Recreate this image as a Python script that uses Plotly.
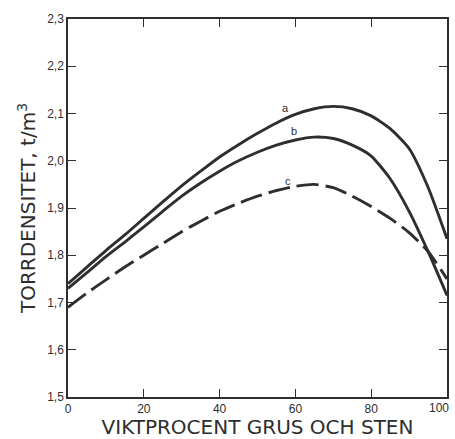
import plotly.graph_objects as go

# Dry density (t/m3) versus weight percent gravel and stone
pct = [0, 5, 10, 15, 20, 25, 30, 35, 40, 45, 50, 55, 60, 65, 70, 75, 80, 85, 90, 95, 100]
curve_a = [1.740, 1.775, 1.810, 1.843, 1.878, 1.913, 1.947, 1.978, 2.008, 2.034, 2.058,
           2.080, 2.098, 2.110, 2.115, 2.110, 2.095, 2.068, 2.026, 1.944, 1.835]
curve_b = [1.730, 1.763, 1.797, 1.828, 1.860, 1.893, 1.925, 1.953, 1.978, 2.000, 2.018,
           2.033, 2.044, 2.050, 2.047, 2.033, 2.010, 1.962, 1.893, 1.808, 1.715]
curve_c = [1.690, 1.720, 1.748, 1.775, 1.800, 1.825, 1.850, 1.872, 1.893, 1.910, 1.925,
           1.937, 1.946, 1.950, 1.943, 1.925, 1.903, 1.878, 1.848, 1.808, 1.750]

curve_names = ["a", "b", "c"]
label_x = [57.5, 59.5, 58.0]
label_y = [2.112, 2.062, 1.957]

x_ticks = [0, 20, 40, 60, 80]
x_tick_text = ["0", "20", "40", "60", "80"]
x_end = 100
x_end_label = "100"  # placed separately, flush with the right frame
y_ticks = [1.5, 1.6, 1.7, 1.8, 1.9, 2.0, 2.1, 2.2, 2.3]

ink = "#2e2e2e"
font_family = "Liberation Sans, Arial"
title_family = "DejaVu Sans, Liberation Sans"

fig = go.Figure()
for ys, dash in [(curve_a, "solid"), (curve_b, "solid"), (curve_c, "22px,7px")]:
    fig.add_trace(go.Scatter(
        x=pct, y=ys, mode="lines",
        line=dict(color=ink, width=2.9, shape="spline", smoothing=0.6, dash=dash),
        showlegend=False, hoverinfo="skip",
    ))

for name, lx, ly in zip(curve_names, label_x, label_y):
    fig.add_annotation(x=lx, y=ly, text=name, showarrow=False,
                       font=dict(family=font_family, size=11, color=ink))

# label for the right end of the x axis, right-aligned so it stays inside the page
fig.add_annotation(x=x_end, y=0, xref="x", yref="paper", text=x_end_label,
                   showarrow=False, xanchor="right", yanchor="top", xshift=4, yshift=-2,
                   font=dict(family=font_family, size=12, color=ink))

axis_common = dict(
    showline=True, linecolor=ink, linewidth=1.5, mirror="ticks",
    ticks="inside", ticklen=8, tickwidth=1.2, tickcolor=ink,
    showgrid=False, zeroline=False, automargin=False,
    tickfont=dict(family=font_family, size=12, color=ink),
)

fig.update_layout(
    width=455, height=439,
    margin=dict(l=68, r=8, t=19, b=42),
    paper_bgcolor="white", plot_bgcolor="white",
    separators=", ",
    xaxis=dict(range=[0, x_end], tickvals=x_ticks, ticktext=x_tick_text,
               title=dict(text="VIKTPROCENT GRUS OCH STEN", standoff=2,
                          font=dict(family=title_family, size=20, color=ink)),
               **axis_common),
    yaxis=dict(range=[1.5, 2.3], tickvals=y_ticks, tickformat=".1f",
               title=dict(text="TORRDENSITET, t/m<sup>3</sup>", standoff=6,
                          font=dict(family=title_family, size=20, color=ink)),
               **axis_common),
)

fig.write_html("out.html")
